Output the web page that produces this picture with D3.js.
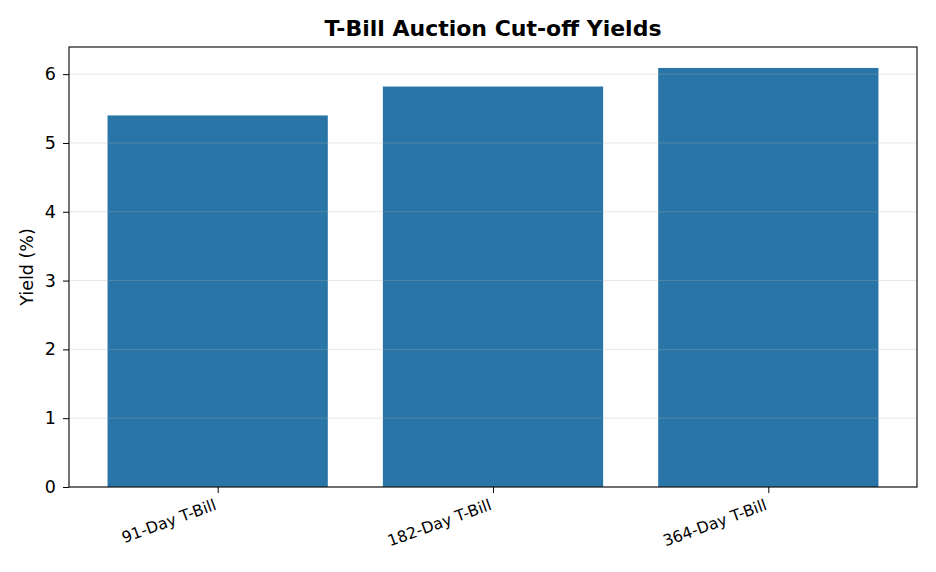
<!DOCTYPE html>
<html>
<head>
<meta charset="utf-8">
<script src="https://cdn.jsdelivr.net/npm/d3@7"></script>
<style>
  body { margin: 0; background: #fff; }
  svg { display: block; font-family: "DejaVu Sans", sans-serif; }
</style>
</head>
<body>
<svg id="chart" width="936" height="572"></svg>
<script>
// chart data
const categories = ["91-Day T-Bill", "182-Day T-Bill", "364-Day T-Bill"];
const yields = [5.40, 5.82, 6.09];
const yTicks = [0, 1, 2, 3, 4, 5, 6];

const width = 936, height = 572;
const margin = { top: 47, right: 19, bottom: 85, left: 69 };
const innerW = width - margin.left - margin.right;
const innerH = height - margin.top - margin.bottom;

const svg = d3.select("#chart");
const g = svg.append("g").attr("transform", `translate(${margin.left},${margin.top})`);

// matplotlib-like x axis: bars of width 0.8 with 5% margins
const x = d3.scaleLinear()
  .domain([-0.4 - 0.14, 2.4 + 0.14])
  .range([0, innerW]);
const barW = x(0.8) - x(0);

const y = d3.scaleLinear()
  .domain([0, d3.max(yields) * 1.05])
  .range([innerH, 0]);

// bars
g.selectAll("rect.bar")
  .data(yields)
  .join("rect")
  .attr("class", "bar")
  .attr("x", (d, i) => x(i) - barW / 2)
  .attr("y", d => y(d))
  .attr("width", barW)
  .attr("height", d => innerH - y(d))
  .attr("fill", "#2975a7");

// grid lines drawn on top of bars
g.append("g")
  .selectAll("line")
  .data(yTicks)
  .join("line")
  .attr("x1", 0)
  .attr("x2", innerW)
  .attr("y1", d => y(d))
  .attr("y2", d => y(d))
  .attr("stroke", "#b0b0b0")
  .attr("stroke-opacity", 0.3)
  .attr("stroke-width", 1);

// y axis
const yAxis = g.append("g")
  .call(d3.axisLeft(y).tickValues(yTicks).tickFormat(d3.format("d")).tickSize(6).tickPadding(7));
yAxis.select(".domain").remove();
yAxis.selectAll("text").attr("font-size", 17.5).attr("fill", "#000").attr("font-family", "DejaVu Sans");
yAxis.selectAll("line").attr("stroke", "#000");

// x axis
const xAxis = g.append("g")
  .attr("transform", `translate(0,${innerH})`)
  .call(d3.axisBottom(x).tickValues(d3.range(categories.length)).tickFormat(i => categories[i]).tickSize(6));
xAxis.select(".domain").remove();
xAxis.selectAll("line").attr("stroke", "#000");
xAxis.selectAll("text")
  .attr("font-size", 15.75)
  .attr("fill", "#000")
  .attr("font-family", "DejaVu Sans")
  .attr("text-anchor", "end")
  .attr("dy", null)
  .attr("y", 0)
  .attr("transform", "translate(-5,11) rotate(-20)")
  .attr("dominant-baseline", "hanging");

// frame
g.append("rect")
  .attr("width", innerW)
  .attr("height", innerH)
  .attr("fill", "none")
  .attr("stroke", "#000")
  .attr("stroke-width", 1.1);

// title
svg.append("text")
  .attr("x", margin.left + innerW / 2)
  .attr("y", 36)
  .attr("text-anchor", "middle")
  .attr("font-size", 22)
  .attr("font-weight", "bold")
  .text("T-Bill Auction Cut-off Yields");

// y label
svg.append("text")
  .attr("transform", `translate(33,${margin.top + innerH / 2}) rotate(-90)`)
  .attr("text-anchor", "middle")
  .attr("font-size", 17.5)
  .text("Yield (%)");
</script>
</body>
</html>
